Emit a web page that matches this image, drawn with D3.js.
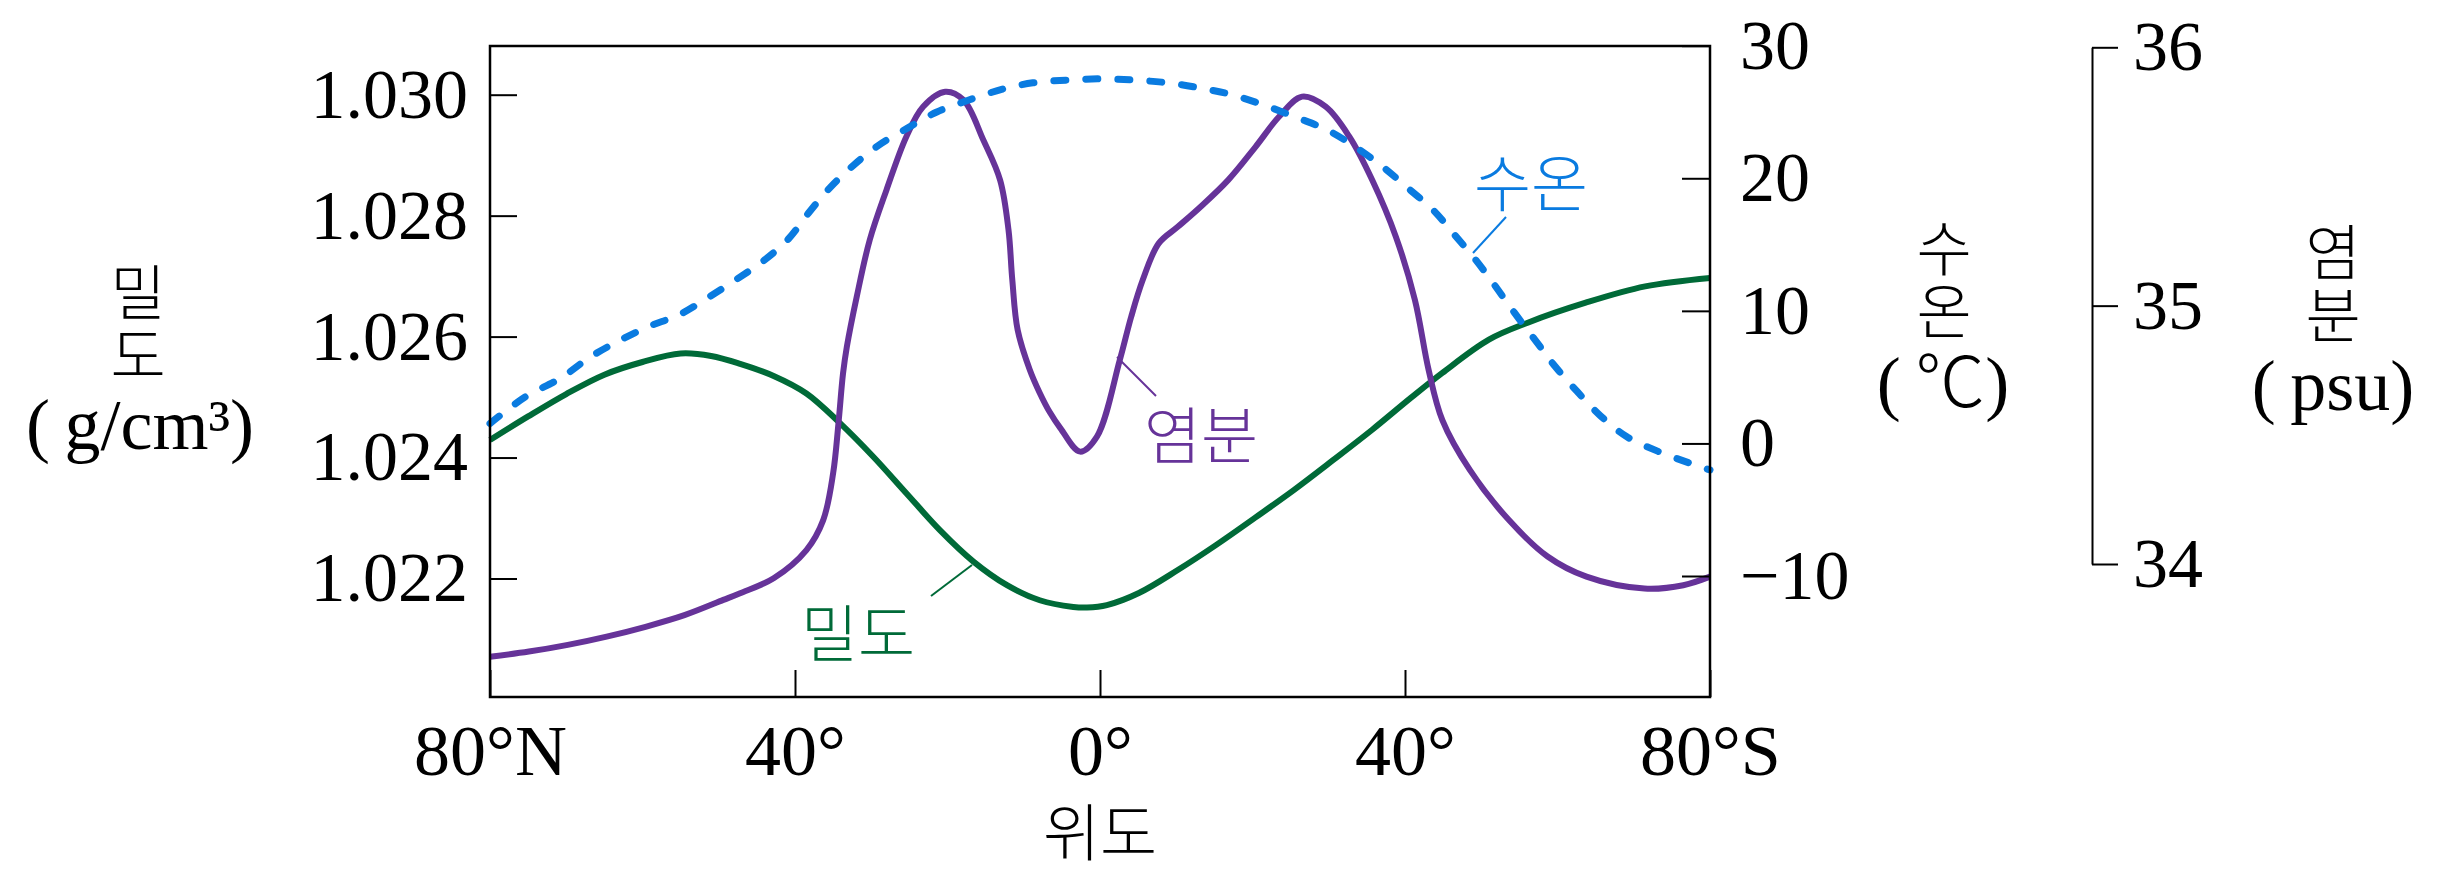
<!DOCTYPE html>
<html><head><meta charset="utf-8">
<script src="https://cdn.jsdelivr.net/npm/d3@7"></script>
<style>body{margin:0;background:#fff}svg{display:block}</style>
</head><body>
<svg id="c" width="2447" height="890"></svg>
<script>
// ---- data ----
const tempLat = [80,75.4,70.8,66.9,63.2,59.3,55.2,51.4,47.6,44.3,40.9,38.2,35.4,32.3,29.0,25.2,21.4,17.2,12.9,8.8,4.5,0,-4.6,-8.9,-13.2,-17.3,-21.6,-25.7,-29.6,-33.4,-37.0,-40.3,-43.7,-46.4,-49.2,-51.8,-54.3,-57.2,-59.7,-62.6,-65.6,-69.1,-73.2,-77.4,-80];
const tempVal = [1.5,3.5,4.9,6.5,7.7,8.8,9.7,11.0,12.4,13.7,15.4,17.4,19.3,21.0,22.5,23.8,25.0,25.9,26.7,27.2,27.4,27.5,27.4,27.2,26.8,26.3,25.5,24.6,23.7,22.4,20.9,19.3,17.6,15.8,13.9,11.9,9.9,7.7,5.8,3.9,2.1,0.5,-0.6,-1.5,-2.0];

const densLat = [80,75,70,65,60,55,51,47.2,42.8,38.5,34.1,29.7,25.4,21.0,16.6,12.2,7.9,3.5,1.7,-0.9,-5.1,-10.2,-15.3,-20.4,-25.5,-30.6,-35.7,-40.8,-44.9,-51.0,-56.1,-63.7,-71.5,-80];
const densVal = [1.02429,1.02468,1.02505,1.02537,1.02558,1.02572,1.02568,1.02555,1.02535,1.02506,1.02457,1.02401,1.02341,1.02280,1.02228,1.02189,1.02164,1.02153,1.02152,1.02156,1.02176,1.02214,1.02256,1.02301,1.02347,1.02396,1.02446,1.02499,1.02540,1.02595,1.02623,1.02656,1.02683,1.02697];

const salLat = [80,74.9,69.8,64.7,59.6,54.5,49.4,47.2,42.8,38.5,36.3,35.0,34.3,33.7,33.2,31.9,30.2,28.0,25.4,23.2,20.3,17.9,15.3,13.1,12.0,11.5,10.8,9.2,7.9,6.6,5.2,2.6,0.4,-2.6,-4.1,-5.6,-7.7,-10.2,-13.2,-16.8,-20.4,-23.5,-26.5,-29.6,-32.7,-35.7,-38.8,-41.3,-43.1,-44.9,-48.5,-53.6,-58.7,-63.8,-71.4,-76.5,-80];
const salVal = [33.641,33.661,33.687,33.719,33.757,33.802,33.861,33.887,33.945,34.054,34.170,34.351,34.545,34.738,34.841,35.035,35.254,35.448,35.654,35.770,35.828,35.796,35.641,35.486,35.293,35.099,34.906,34.751,34.662,34.588,34.526,34.435,34.493,34.790,34.958,35.099,35.241,35.305,35.383,35.486,35.615,35.732,35.809,35.770,35.654,35.486,35.267,35.022,34.751,34.557,34.364,34.171,34.029,33.951,33.905,33.918,33.951];

const latTicks = [80,40,0,-40,-80];
const latTickLabels = ["80°N","40°","0°","40°","80°S"];
const densTicks = [1.022,1.024,1.026,1.028,1.030];
const tempTicks = [-10,0,10,20,30];
const salTicks = [34,35,36];

// ---- layout ----
const svg = d3.select('#c');
const L=490, R=1710, T=46, B=697;
const SERIF = "'Liberation Serif','DejaVu Serif',serif";
const KR = "'Noto Sans CJK KR','Noto Sans',sans-serif";
const C_TEMP = '#0a7be0', C_DENS = '#006a38', C_SAL = '#663399';

const x  = d3.scaleLinear().domain([80,-80]).range([L,R]);
const yD = d3.scaleLinear().domain([1.022,1.030]).range([578.5,94.7]);
const yT = d3.scaleLinear().domain([-10,30]).range([576,45.7]);
const yS = d3.scaleLinear().domain([34,36]).range([564,47.3]);

function series(lat, val, y){
  return d3.line().x((d,i)=>x(lat[i])).y((d,i)=>y(val[i])).curve(d3.curveCatmullRom.alpha(0.5))(val);
}

// curves
svg.append('path').attr('d', series(densLat,densVal,yD))
  .attr('fill','none').attr('stroke',C_DENS).attr('stroke-width',6);
svg.append('path').attr('d', series(salLat,salVal,yS))
  .attr('fill','none').attr('stroke',C_SAL).attr('stroke-width',6);
svg.append('path').attr('d', series(tempLat,tempVal,yT))
  .attr('fill','none').attr('stroke',C_TEMP).attr('stroke-width',7)
  .attr('stroke-dasharray','12,20').attr('stroke-linecap','round');

// axes
function styleAxis(g, size){
  g.attr('font-family', SERIF).attr('font-size', size);
  g.selectAll('text').attr('fill','#000');
  g.selectAll('.tick line').attr('stroke','#000').attr('stroke-width',2);
}
const gL = svg.append('g').attr('transform',`translate(${L},0)`)
  .call(d3.axisLeft(yD).tickValues(densTicks).tickFormat(d3.format('.3f')).tickSize(-27).tickPadding(22));
gL.select('.domain').remove(); styleAxis(gL,70);

const gR = svg.append('g').attr('transform',`translate(${R},0)`)
  .call(d3.axisRight(yT).tickValues(tempTicks).tickSize(-28).tickPadding(30));
gR.select('.domain').remove(); styleAxis(gR,70);

const gB = svg.append('g').attr('transform',`translate(0,${B})`)
  .call(d3.axisBottom(x).tickValues(latTicks).tickFormat((d,i)=>latTickLabels[i]).tickSize(-27).tickPadding(27));
gB.select('.domain').remove(); styleAxis(gB,72);

const gS = svg.append('g').attr('transform',`translate(2092,0)`)
  .call(d3.axisRight(yS).tickValues(salTicks).tickFormat(d3.format('d')).tickSize(26).tickSizeOuter(0).tickPadding(15));
gS.select('.domain').attr('stroke','#000').attr('stroke-width',2);
styleAxis(gS,70);

// frame
svg.append('rect').attr('x',L).attr('y',T).attr('width',R-L).attr('height',B-T)
  .attr('fill','none').attr('stroke','#000').attr('stroke-width',2.5);

// series labels with leader lines
function label(txt, cx, cy, col){
  svg.append('text').attr('x',cx).attr('y',cy).attr('text-anchor','middle')
    .attr('dominant-baseline','central').attr('font-family',KR).attr('font-weight',300)
    .attr('font-size',62).attr('fill',col).text(txt);
}
function leader(x1,y1,x2,y2,col){
  svg.append('line').attr('x1',x1).attr('y1',y1).attr('x2',x2).attr('y2',y2)
    .attr('stroke',col).attr('stroke-width',2);
}
label('수온',1531,180,C_TEMP); leader(1506,217,1473,253,C_TEMP);
label('염분',1201,432,C_SAL);  leader(1117,357,1156,396,C_SAL);
label('밀도',858,630,C_DENS);  leader(931,596,972,565,C_DENS);

// axis titles
function krVert(txt,cx,cy){
  svg.append('text').attr('x',cx).attr('y',cy).attr('text-anchor','middle')
    .style('writing-mode','vertical-rl').style('text-orientation','upright')
    .attr('letter-spacing',3)
    .attr('font-family',KR).attr('font-weight',300)
    .attr('font-size',60).attr('fill','#000').text(txt);
}
function unit(cx,base,parts){
  const t = svg.append('text').attr('x',cx).attr('y',base).attr('text-anchor','middle')
    .attr('font-family',SERIF).attr('font-size',72).attr('fill','#000');
  parts.forEach(p=>{
    const s = t.append('tspan').text(p.t);
    if(p.kr) s.attr('font-family',KR).attr('font-weight',300).attr('font-size',70);
  });
}
svg.append('text').attr('x',1100).attr('y',829).attr('text-anchor','middle')
  .attr('dominant-baseline','central').attr('font-family',KR).attr('font-weight',300)
  .attr('font-size',62).attr('fill','#000').text('위도');
krVert('밀도',138,325); unit(140,449,[{t:'(\u2009g/cm³)'}]);
krVert('수온',1944,281); unit(1943,407,[{t:'(\u2009'},{t:'℃',kr:true},{t:')'}]);
krVert('염분',2333,285); unit(2333,410,[{t:'(\u2009psu)'}]);
</script></body></html>
